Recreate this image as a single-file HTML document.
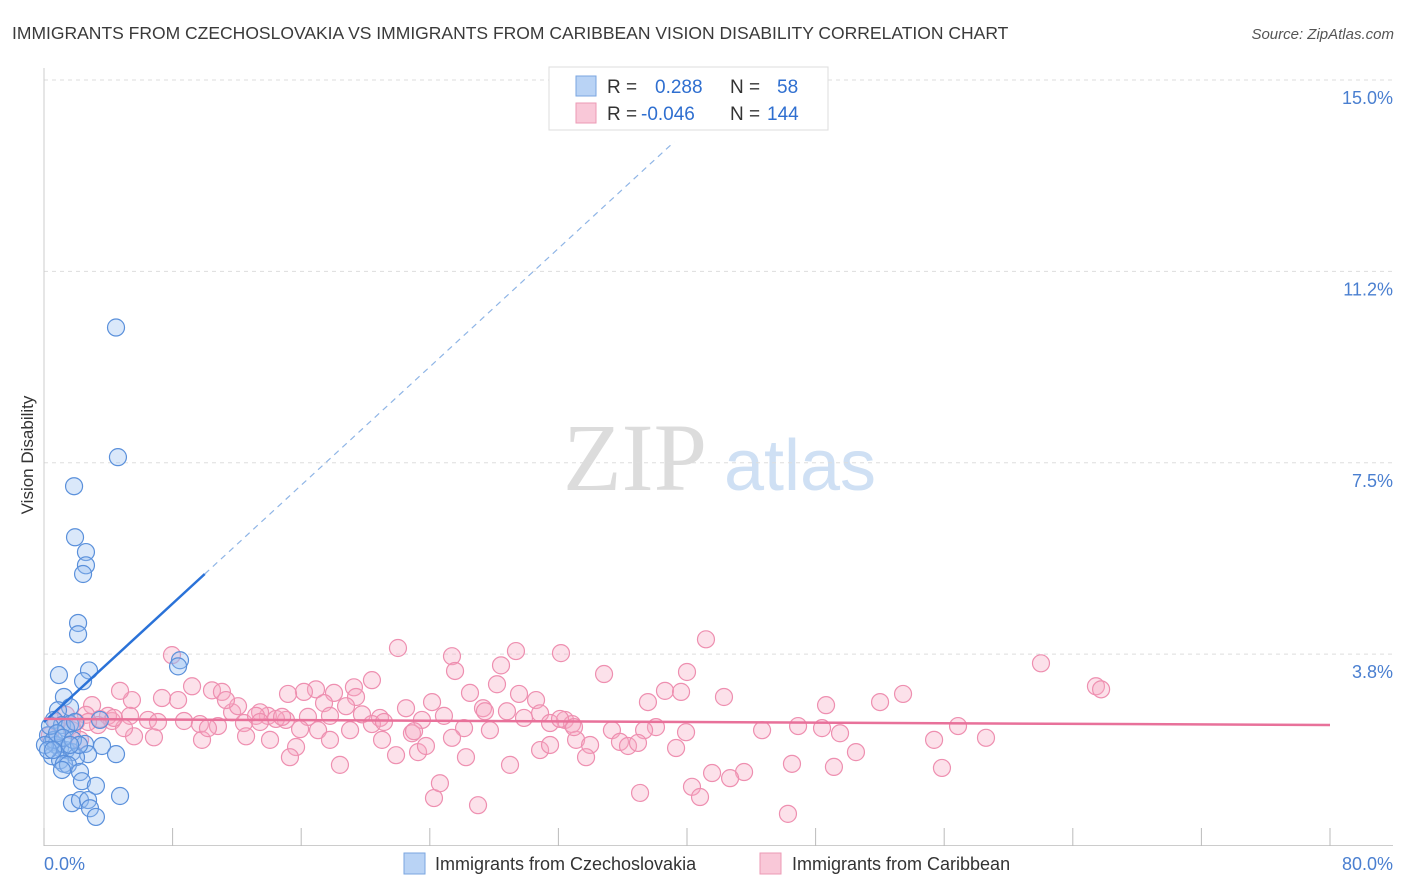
<!DOCTYPE html>
<html><head><meta charset="utf-8">
<style>
body{margin:0;background:#fff;font-family:"Liberation Sans",sans-serif;}
svg{display:block}
</style></head>
<body>
<svg id="chart" width="1406" height="892" xmlns="http://www.w3.org/2000/svg">
<text x="12" y="39" font-size="17.5" fill="#3a3a3a">IMMIGRANTS FROM CZECHOSLOVAKIA VS IMMIGRANTS FROM CARIBBEAN VISION DISABILITY CORRELATION CHART</text>
<text x="1394" y="39" font-size="15" fill="#555" font-style="italic" text-anchor="end">Source: ZipAtlas.com</text>
<text transform="translate(33,455) rotate(-90)" font-size="17" fill="#333" text-anchor="middle">Vision Disability</text>
<g>
<text x="635" y="490" font-size="96" font-family="Liberation Serif,serif" fill="#dcdcdc" text-anchor="middle">ZIP</text>
<text x="800" y="490" font-size="72" fill="#cfe0f4" text-anchor="middle">atlas</text>
</g>
<g id="grid"></g>
<g id="ticks"></g>
<g id="pts"></g>
<g id="lines"></g>
<g>
<rect x="549" y="67" width="279" height="63" fill="#fff" stroke="#ddd"/>
<rect x="576" y="76" width="20" height="20" fill="#b9d3f5" stroke="#7aa6e0"/>
<rect x="576" y="103" width="20" height="20" fill="#f9c8d8" stroke="#ec9ab5"/>
<text x="607" y="93" font-size="19" fill="#333">R =</text>
<text x="655" y="93" font-size="19" fill="#2f6fd0">0.288</text>
<text x="730" y="93" font-size="19" fill="#333">N =</text>
<text x="777" y="93" font-size="19" fill="#2f6fd0">58</text>
<text x="607" y="120" font-size="19" fill="#333">R =</text>
<text x="641" y="120" font-size="19" fill="#2f6fd0">-0.046</text>
<text x="730" y="120" font-size="19" fill="#333">N =</text>
<text x="767" y="120" font-size="19" fill="#2f6fd0">144</text>
</g>
<g>
<rect x="404" y="853" width="21" height="21" fill="#b9d3f5" stroke="#7aa6e0"/>
<text x="435" y="870" font-size="18" fill="#333">Immigrants from Czechoslovakia</text>
<rect x="760" y="853" width="21" height="21" fill="#f9c8d8" stroke="#ec9ab5"/>
<text x="792" y="870" font-size="18" fill="#333">Immigrants from Caribbean</text>
</g>
</svg>
<script>
const yTicks=[3.75,7.5,11.25,15];
const yTickLabels=["3.8%","7.5%","11.2%","15.0%"];
const xTicks=[0,8,16,24,32,40,48,56,64,72,80];
const blueX=[4.48,4.60,1.87,1.93,2.61,2.61,2.43,2.12,2.12,8.46,8.34,2.80,0.93,2.43,1.24,1.62,0.87,0.62,1.12,1.62,0.25,0.50,0.75,1.00,1.37,1.74,2.55,3.61,4.48,2.74,1.99,0.50,1.00,1.24,1.49,1.12,2.24,2.36,3.23,1.74,2.24,2.74,2.86,3.23,4.73,0.62,0.37,1.37,1.93,0.06,0.81,1.18,1.80,2.18,0.25,0.56,1.62,3.48];
const blueY=[10.15,7.61,7.04,6.04,5.75,5.49,5.32,4.36,4.14,3.63,3.51,3.43,3.34,3.22,2.91,2.71,2.65,2.46,2.36,2.38,2.16,2.03,1.97,1.91,1.87,1.83,1.99,1.95,1.79,1.79,1.73,1.75,1.67,1.60,1.58,1.48,1.44,1.26,1.17,0.83,0.89,0.89,0.73,0.56,0.97,2.07,2.34,2.30,2.42,1.97,2.20,2.11,2.07,1.97,1.87,1.87,1.97,2.46];
const pinkX=[65.44,65.76,62.02,41.18,29.36,22.02,25.38,32.16,28.43,25.57,34.84,40.00,7.96,20.40,28.18,38.63,39.63,42.30,53.44,52.01,48.65,26.50,29.55,30.61,24.14,27.31,27.43,28.80,30.86,32.41,31.48,32.85,35.33,37.57,38.07,37.33,22.52,20.90,19.28,18.04,16.92,16.17,15.18,19.41,17.42,16.42,15.05,13.93,13.44,11.70,12.07,10.45,11.07,11.32,9.21,8.34,7.34,5.47,4.73,2.99,3.48,4.23,5.35,6.47,7.09,8.71,9.70,10.82,12.44,13.19,14.43,14.81,15.93,17.05,17.79,18.79,19.78,20.40,21.15,22.89,23.51,24.88,26.13,27.74,29.86,33.10,33.97,35.83,36.33,36.95,39.32,44.67,46.91,48.40,49.52,56.86,55.37,58.60,50.51,46.53,49.14,55.86,43.55,42.68,41.56,40.31,40.81,37.08,24.26,27.00,46.28,28.99,26.25,24.63,23.27,23.02,21.03,18.41,15.68,15.30,14.06,12.57,6.84,5.60,4.98,3.98,2.61,1.99,1.37,0.75,0.37,2.24,3.36,4.35,9.83,10.20,19.04,21.90,33.72,39.94,30.86,31.48,32.97,32.10,25.38,23.76,17.79,13.44,2.74,1.74];
const pinkY=[3.12,3.06,3.57,4.04,3.81,3.87,3.71,3.77,3.53,3.42,3.36,3.40,3.73,3.24,3.16,3.03,3.01,2.91,2.97,2.81,2.75,2.99,2.97,2.85,2.81,2.69,2.63,2.63,2.59,2.46,2.40,2.38,2.26,2.81,2.32,2.26,2.69,2.50,3.10,2.99,3.06,3.01,2.97,2.91,2.79,2.52,2.46,2.54,2.61,2.61,2.73,3.04,3.01,2.85,3.12,2.85,2.89,2.85,3.03,2.75,2.48,2.44,2.54,2.46,2.42,2.44,2.38,2.34,2.40,2.54,2.48,2.52,2.28,2.26,2.54,2.73,2.57,2.38,2.42,2.20,2.46,2.54,2.30,2.26,2.50,2.07,1.97,2.03,1.95,2.01,1.91,2.26,2.34,2.30,2.20,2.34,2.07,2.11,1.83,1.60,1.54,1.52,1.44,1.32,1.42,1.15,0.95,1.03,0.93,0.79,0.62,1.58,1.73,1.22,1.83,2.24,2.07,1.58,1.93,1.73,2.07,2.14,2.12,2.14,2.30,2.54,2.56,2.42,2.56,2.42,2.16,2.07,2.36,2.50,2.07,2.30,2.26,1.77,1.73,2.22,1.87,1.97,2.32,2.48,2.11,1.95,2.07,2.42,2.42,2.26];
const blueFit=[2.42,0.29];   // intercept, slope
const blueSolidEnd=10.0, blueDashEnd=39.2;
const pinkFit=[2.48,-0.0015];

const NS="http://www.w3.org/2000/svg";
const X=v=>44+v*(1286/80);
const Y=v=>845.5-v*(765.5/15);
function mk(tag,attrs,parent){const e=document.createElementNS(NS,tag);for(const k in attrs)e.setAttribute(k,attrs[k]);document.getElementById(parent).appendChild(e);return e;}

yTicks.forEach((t,i)=>{
  const g=mk('line',{x1:44,x2:1393,y1:Y(t),y2:Y(t),stroke:'#ddd','stroke-dasharray':'4,4'},'grid');
  
  
  const l=mk('text',{x:1393,y:Y(t)+24,'font-size':18,fill:'#4a7fd0','text-anchor':'end'},'ticks');
  l.textContent=yTickLabels[i];
  
  
});
const ax=mk('line',{x1:44,x2:44,y1:68,y2:846,stroke:'#ccc'},'grid');


const bx=mk('line',{x1:44,x2:1393,y1:845.5,y2:845.5,stroke:'#ccc'},'grid');


xTicks.forEach(t=>{
  const e=mk('line',{x1:X(t),x2:X(t),y1:828,y2:846,stroke:'#bbb'},'ticks');
  
  
});
const x0=mk('text',{x:44,y:870,'font-size':18,fill:'#4a7fd0'},'ticks');x0.textContent='0.0%';


const x1=mk('text',{x:1393,y:870,'font-size':18,fill:'#4a7fd0','text-anchor':'end'},'ticks');x1.textContent='80.0%';



pinkX.forEach((v,i)=>{
  const c=mk('circle',{cx:X(v),cy:Y(pinkY[i]),r:8.5,fill:'rgba(246,170,196,0.35)',stroke:'#ee8fb0','stroke-width':1.2},'pts');
  
  
});
blueX.forEach((v,i)=>{
  const c=mk('circle',{cx:X(v),cy:Y(blueY[i]),r:8.5,fill:'rgba(150,190,240,0.35)',stroke:'#5a90db','stroke-width':1.2},'pts');
  
  
});
const bl=mk('line',{x1:X(0),y1:Y(blueFit[0]),x2:X(blueSolidEnd),y2:Y(blueFit[0]+blueFit[1]*blueSolidEnd),stroke:'#2a72d8','stroke-width':2.5},'lines');


const bd=mk('line',{x1:X(blueSolidEnd),y1:Y(blueFit[0]+blueFit[1]*blueSolidEnd),x2:X(blueDashEnd),y2:Y(blueFit[0]+blueFit[1]*blueDashEnd),stroke:'#8fb5e6','stroke-width':1.2,'stroke-dasharray':'6,5'},'lines');


const pl=mk('line',{x1:X(0),y1:Y(pinkFit[0]),x2:X(80),y2:Y(pinkFit[0]+pinkFit[1]*80),stroke:'#e8719a','stroke-width':2.5},'lines');


</script>
</body></html>
